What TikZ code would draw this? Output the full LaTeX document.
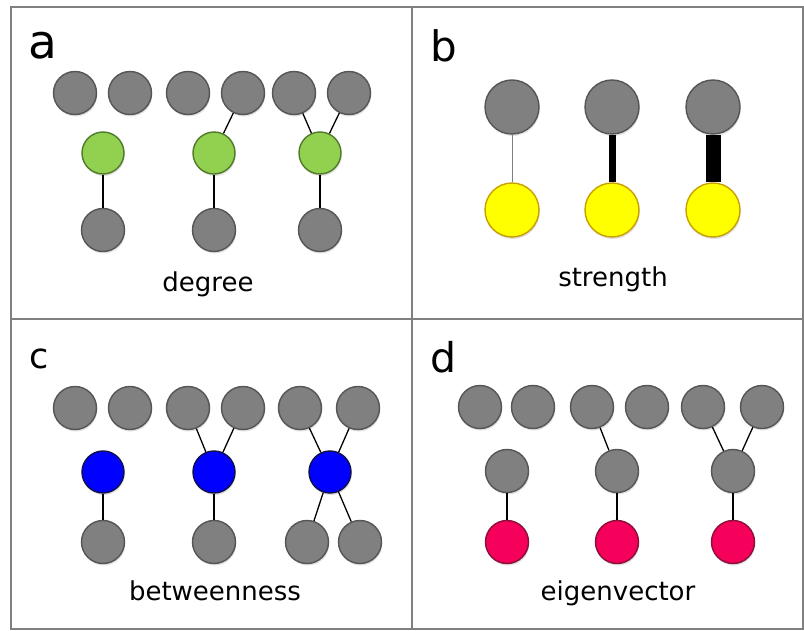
\documentclass[tikz,border=0pt]{standalone}
\usepackage{fontspec}
\setmainfont{DejaVu Sans}
\usetikzlibrary{shadows}
\definecolor{nodegray}{HTML}{808080}
\definecolor{nodegrayline}{HTML}{555555}
\definecolor{nodegreen}{HTML}{92D050}
\definecolor{nodegreenline}{HTML}{4F7A28}
\definecolor{nodeblue}{HTML}{0000FF}
\definecolor{nodeblueline}{HTML}{10104A}
\definecolor{nodeyellow}{HTML}{FFFF00}
\definecolor{nodeyellowline}{HTML}{C8A000}
\definecolor{nodered}{HTML}{F5005A}
\definecolor{noderedline}{HTML}{8A1038}
\definecolor{framegray}{HTML}{808080}
\tikzset{
  vtx/.style={circle, minimum size=43pt, inner sep=0pt, line width=1.4pt,
    drop shadow={shadow xshift=0.8pt, shadow yshift=-2pt, opacity=0.12, fill=black}},
  big/.style={minimum size=54pt},
  grayv/.style={vtx, fill=nodegray, draw=nodegrayline},
  greenv/.style={vtx, fill=nodegreen, draw=nodegreenline},
  bluev/.style={vtx, fill=nodeblue, draw=nodeblueline},
  yellowv/.style={vtx, big, fill=nodeyellow, draw=nodeyellowline},
  redv/.style={vtx, fill=nodered, draw=noderedline},
  edge/.style={draw=black, line width=1.3pt},
  panellabel/.style={anchor=base west, inner sep=0pt},
  caption/.style={anchor=base, inner sep=0pt, font=\fontsize{26}{26}\selectfont}
}
\begin{document}
\begin{tikzpicture}[x=1pt, y=-1pt]
\useasboundingbox (0,0) rectangle (804,631);
\fill[white] (0,0) rectangle (804,631);

% frame and dividers
\draw[framegray, line width=2pt] (11,7) rectangle (803,629);
\draw[framegray, line width=2pt] (412,7) -- (412,629);
\draw[framegray, line width=2pt] (11,319) -- (803,319);

% ---------- panel a: degree ----------
\node[panellabel, font=\fontsize{47}{47}\selectfont] (la) at (28,59) {a};
\node[grayv] (a1) at (75,93) {};
\node[grayv] (a2) at (130,93) {};
\node[grayv] (a3) at (188,93) {};
\node[grayv] (a4) at (243,93) {};
\node[grayv] (a5) at (294,93) {};
\node[grayv] (a6) at (349,93) {};
\node[greenv, minimum size=42pt] (ag1) at (103,153) {};
\node[greenv, minimum size=42pt] (ag2) at (214,153) {};
\node[greenv, minimum size=42pt] (ag3) at (320,153) {};
\node[grayv] (ab1) at (103,230) {};
\node[grayv] (ab2) at (214,230) {};
\node[grayv] (ab3) at (320,230) {};
\draw[edge] (ag1) -- (ab1);
\draw[edge] (ag2) -- (ab2);
\draw[edge] (ag2) -- (a4);
\draw[edge] (ag3) -- (ab3);
\draw[edge] (ag3) -- (a5);
\draw[edge] (ag3) -- (a6);
\node[caption] (ca) at (208,292) {degree};

% ---------- panel b: strength ----------
\node[panellabel, font=\fontsize{42}{42}\selectfont] (lb) at (430,62) {b};
\node[grayv, big] (b1) at (512,107) {};
\node[grayv, big] (b2) at (612,107) {};
\node[grayv, big] (b3) at (713,107) {};
\node[yellowv] (by1) at (512,210) {};
\node[yellowv] (by2) at (612,210) {};
\node[yellowv] (by3) at (713,210) {};
\draw[draw=nodegray, line width=0.7pt] (b1) -- (by1);
\draw[draw=black, line width=7pt] (b2) -- (by2);
\draw[draw=black, line width=15pt] (b3) -- (by3);
\node[caption] (cb) at (613,287) {strength};

% ---------- panel c: betweenness ----------
\node[panellabel, font=\fontsize{35}{35}\selectfont] (lc) at (29,369) {c};
\node[grayv] (c1) at (75,408) {};
\node[grayv] (c2) at (130,408) {};
\node[grayv] (c3) at (188,408) {};
\node[grayv] (c4) at (243,408) {};
\node[grayv] (c5) at (300,408) {};
\node[grayv] (c6) at (358,408) {};
\node[bluev, minimum size=42pt] (cb1) at (103,472) {};
\node[bluev, minimum size=42pt] (cb2) at (214,472) {};
\node[bluev, minimum size=42pt] (cb3) at (330,472) {};
\node[grayv] (cl1) at (103,542) {};
\node[grayv] (cl2) at (214,542) {};
\node[grayv] (cl3) at (307,542) {};
\node[grayv] (cl4) at (360,542) {};
\draw[edge] (cb1) -- (cl1);
\draw[edge] (cb2) -- (c3);
\draw[edge] (cb2) -- (c4);
\draw[edge] (cb2) -- (cl2);
\draw[edge] (cb3) -- (c5);
\draw[edge] (cb3) -- (c6);
\draw[edge] (cb3) -- (cl3);
\draw[edge] (cb3) -- (cl4);
\node[caption] (cc) at (215,600) {betweenness};

% ---------- panel d: eigenvector ----------
\node[panellabel, font=\fontsize{41}{41}\selectfont] (ld) at (430,373) {d};
\node[grayv] (d1) at (480,407) {};
\node[grayv] (d2) at (533,407) {};
\node[grayv] (d3) at (592,407) {};
\node[grayv] (d4) at (647,407) {};
\node[grayv] (d5) at (703,407) {};
\node[grayv] (d6) at (762,407) {};
\node[grayv] (dm1) at (507,471) {};
\node[grayv] (dm2) at (617,471) {};
\node[grayv] (dm3) at (733,471) {};
\node[redv] (dr1) at (507,542) {};
\node[redv] (dr2) at (617,542) {};
\node[redv] (dr3) at (733,542) {};
\draw[edge] (dm1) -- (dr1);
\draw[edge] (dm2) -- (d3);
\draw[edge] (dm2) -- (dr2);
\draw[edge] (dm3) -- (d5);
\draw[edge] (dm3) -- (d6);
\draw[edge] (dm3) -- (dr3);
\node[caption] (cd) at (618,600) {eigenvector};
\end{tikzpicture}
\end{document}
